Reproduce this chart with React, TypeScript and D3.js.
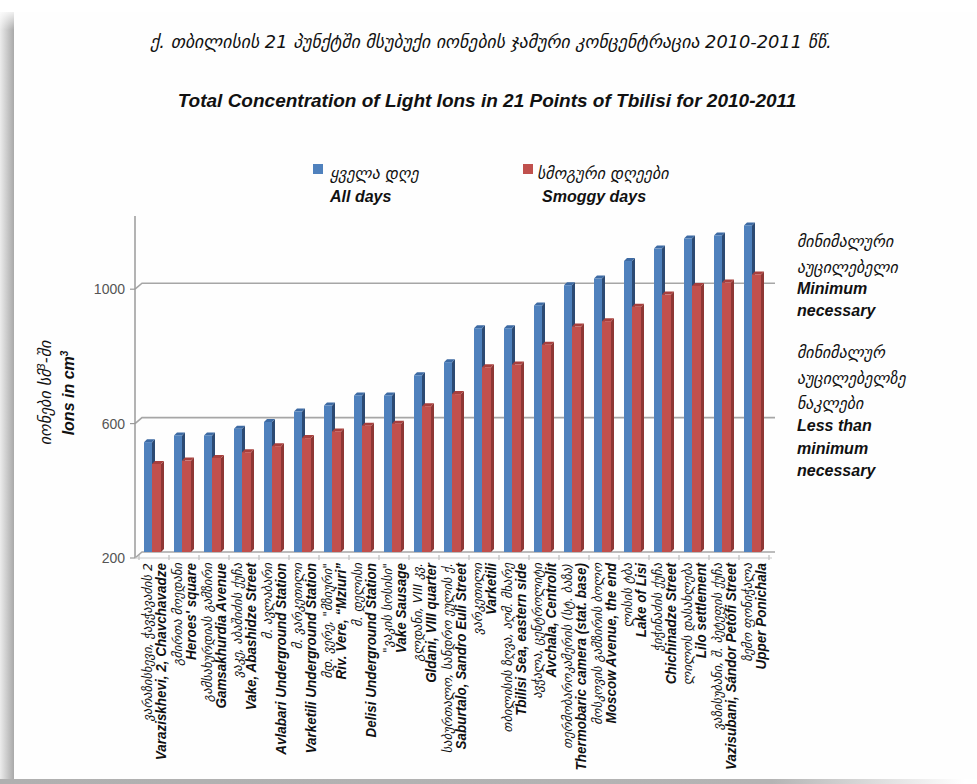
import React from "react";
import * as d3 from "d3";

const categoriesKa = [
  "ვარაზისხევი, ჭავჭავაძის 2",
  "გმირთა მოედანი",
  "გამსახურდიას გამზირი",
  "ვაკე, აბაშიძის ქუჩა",
  "მ. ავლაბარი",
  "მ. ვარკეთილი",
  "მდ. ვერე, \"მზიური\"",
  "მ. დელისი",
  "\"ვაკის სოსისი\"",
  "გლდანი, VIII კვ.",
  "საბურთალო, სანდრო ეულის ქ.",
  "ვარკეთილი",
  "თბილისის ზღვა, აღმ. მხარე",
  "ავჭალა, ცენტროლიტი",
  "თერმობაროკამერის (სტ. ბაზა)",
  "მოსკოვის გამზირის ბოლო",
  "ლისის ტბა",
  "ჭიჭინაძის ქუჩა",
  "ლილოს დასახლება",
  "ვაზისუბანი, შ. პეტეფის ქუჩა",
  "ზემო ფონიჭალა",
];

const categoriesEn = [
  "Varaziskhevi, 2, Chavchavadze",
  "Heroes' square",
  "Gamsakhurdia Avenue",
  "Vake, Abashidze Street",
  "Avlabari Underground Station",
  "Varketili Underground Station",
  "Riv. Vere, \u201CMziuri\u201D",
  "Delisi Underground Station",
  "Vake Sausage",
  "Gldani, VIII quarter",
  "Saburtalo, Sandro Euli Street",
  "Varketili",
  "Tbilisi Sea, eastern side",
  "Avchala, Centrolit",
  "Thermobaric camera (stat. base)",
  "Moscow Avenue, the end",
  "Lake of Lisi",
  "Chichinadze Street",
  "Lilo settlement",
  "Vazisubani, Sándor Petőfi Street",
  "Upper Ponichala",
];

const allDays = [527, 547, 547, 567, 587, 618, 636, 666, 666, 726, 765, 866, 866, 934, 994, 1014, 1066, 1103, 1133, 1142, 1172];
const smoggyDays = [462, 472, 480, 497, 515, 539, 559, 576, 582, 634, 670, 750, 758, 817, 871, 887, 930, 966, 992, 1002, 1026];

const yTicks = [200, 600, 1000];
const gridValues = [200, 600, 1000];

const titleKa = "ქ. თბილისის 21 პუნქტში მსუბუქი იონების ჯამური კონცენტრაცია 2010-2011 წწ.";
const titleEn = "Total Concentration of Light Ions in 21 Points of Tbilisi for 2010-2011";
const legendKa = ["ყველა დღე", "სმოგური დღეები"];
const legendEn = ["All days", "Smoggy days"];
const noteTop = ["მინიმალური", "აუცილებელი"];
const noteTopEn = ["Minimum", "necessary"];
const noteBottom = ["მინიმალურ", "აუცილებელზე", "ნაკლები"];
const noteBottomEn = ["Less than", "minimum", "necessary"];

const W = 977;
const H = 784;
const KA_FONT = "'DejaVu Sans', 'Noto Sans', sans-serif";
const EN_WIDE = "'Liberation Sans', Arial, sans-serif";

const BLUE = "#4f81bd";
const BLUE_SIDE = "#2c4a73";
const RED = "#c0504d";
const RED_SIDE = "#8e3734";

export default function App() {
  const idx = d3.range(categoriesKa.length).map(String);
  const x = d3.scaleBand<string>().domain(idx).range([139, 769]).padding(0);
  const y = d3.scaleLinear().domain([200, 1200]).range([552, 216]);
  const bw = x.bandwidth();
  const depth = 3;

  return (
    <div style={{ position: "absolute", left: 0, top: 0 }}>
      <svg width={W} height={H} style={{ display: "block", background: "#fff" }}>
        <defs>
          <linearGradient id="lshadow" x1="0" x2="1" y1="0" y2="0">
            <stop offset="0" stopColor="#ececec" />
            <stop offset="1" stopColor="#a9a9a9" />
          </linearGradient>
          <linearGradient id="topfade" x1="0" x2="0" y1="0" y2="1">
            <stop offset="0" stopColor="#fff" stopOpacity="1" />
            <stop offset="1" stopColor="#fff" stopOpacity="0" />
          </linearGradient>
          <linearGradient id="bshadow" x1="0" x2="1" y1="0" y2="0">
            <stop offset="0" stopColor="#b0b0b0" />
            <stop offset="0.8" stopColor="#b4b4b4" />
            <stop offset="1" stopColor="#ffffff" />
          </linearGradient>
        </defs>
        <rect x={0} y={0} width={W} height={H} fill="#fff" />
        <rect x={0} y={12} width={14} height={770} fill="url(#lshadow)" />
        <rect x={0} y={8} width={16} height={22} fill="url(#topfade)" />
        <rect x={0} y={779} width={965} height={5} fill="url(#bshadow)" />
        <rect x={14} y={12} width={W - 14} height={767} fill="#fefefe" />

        {/* Titles */}
        <text x={491} y={48} textAnchor="middle" fontFamily={KA_FONT} fontStyle="italic" fontSize={17.8} fill="#111">
          {titleKa}
        </text>
        <text x={487} y={107} textAnchor="middle" fontFamily={EN_WIDE} fontStyle="italic" fontWeight="bold" fontSize={19} fill="#111">
          {titleEn}
        </text>

        {/* Legend */}
        <rect x={313} y={164} width={10} height={10} fill={BLUE} />
        <text x={330} y={179} fontFamily={KA_FONT} fontStyle="italic" fontSize={16} fill="#111">{legendKa[0]}</text>
        <text x={330} y={202} fontFamily={EN_WIDE} fontStyle="italic" fontWeight="bold" fontSize={16} fill="#111">{legendEn[0]}</text>
        <rect x={523} y={164} width={10} height={10} fill={RED} />
        <text x={537} y={179} fontFamily={KA_FONT} fontStyle="italic" fontSize={16} fill="#111">{legendKa[1]}</text>
        <text x={542} y={202} fontFamily={EN_WIDE} fontStyle="italic" fontWeight="bold" fontSize={16} fill="#111">{legendEn[1]}</text>

        {/* Gridlines */}
        {gridValues.map((v) => (
          <path
            key={"g" + v}
            d={`M135,${y(v) + 6} L142,${y(v)} L775,${y(v)}`}
            fill="none"
            stroke="#a6a6a6"
            strokeWidth={1.6}
          />
        ))}

        {/* Y axis */}
        <line x1={135} x2={135} y1={216} y2={558} stroke="#9a9a9a" strokeWidth={1.5} />
        {yTicks.map((v) => (
          <g key={"t" + v}>
            <line x1={130} x2={135} y1={y(v) + 6} y2={y(v) + 6} stroke="#9a9a9a" strokeWidth={1.2} />
            <text x={125} y={y(v) + 11} textAnchor="end" fontFamily={EN_WIDE} fontSize={14} fill="#555">
              {v}
            </text>
          </g>
        ))}
        {/* X ticks */}
        {idx.concat(["end"]).map((k, i) => {
          const xx = k === "end" ? 769 : (x(k) as number);
          return <line key={"xt" + i} x1={xx} x2={xx} y1={555} y2={560} stroke="#b0b0b0" strokeWidth={1} />;
        })}
        <line x1={135} x2={772} y1={558} y2={558} stroke="#c8c8c8" strokeWidth={1} />

        {/* Bars */}
        {idx.map((k, i) => {
          const c = (x(k) as number) + bw / 2;
          const base = y(200);
          const bx = c - 10;
          const bwF = 8;
          const rx = c - 2;
          const rwF = 9;
          const by = y(allDays[i]);
          const ry = y(smoggyDays[i]);
          return (
            <g key={"b" + i}>
              <polygon
                points={`${bx + bwF},${by} ${bx + bwF + depth},${by - depth} ${bx + bwF + depth},${base - depth} ${bx + bwF},${base}`}
                fill={BLUE_SIDE}
              />
              <polygon
                points={`${bx},${by} ${bx + depth},${by - depth} ${bx + bwF + depth},${by - depth} ${bx + bwF},${by}`}
                fill="#3d6aa3"
              />
              <rect x={bx} y={by} width={bwF} height={base - by} fill={BLUE} />
              <polygon
                points={`${rx + rwF},${ry} ${rx + rwF + depth},${ry - depth} ${rx + rwF + depth},${base - depth} ${rx + rwF},${base}`}
                fill={RED_SIDE}
              />
              <polygon
                points={`${rx},${ry} ${rx + depth},${ry - depth} ${rx + rwF + depth},${ry - depth} ${rx + rwF},${ry}`}
                fill="#a8403d"
              />
              <rect x={rx} y={ry} width={rwF} height={base - ry} fill={RED} />
            </g>
          );
        })}

        {/* X labels */}
        {idx.map((k, i) => {
          const c = (x(k) as number) + bw / 2;
          return (
            <g key={"l" + i}>
              <text
                transform={`translate(${c - 2},563) rotate(-90)`}
                textAnchor="end"
                fontFamily={KA_FONT}
                fontStyle="italic"
                fontSize={12.5}
                fill="#111"
              >
                {categoriesKa[i]}
              </text>
              <text
                transform={`translate(${c + 12},563) rotate(-90) scale(0.9,1)`}
                textAnchor="end"
                fontFamily={EN_WIDE}
                fontStyle="italic"
                fontWeight="bold"
                fontSize={15}
                fill="#111"
              >
                {categoriesEn[i]}
              </text>
            </g>
          );
        })}

        {/* Y title */}
        <text transform="translate(51,393) rotate(-90)" textAnchor="middle" fontFamily={KA_FONT} fontStyle="italic" fontSize={16} fill="#111">
          იონები სმ<tspan fontSize={10} dy={-6}>3</tspan><tspan dy={6}>-ში</tspan>
        </text>
        <text transform="translate(74,393) rotate(-90)" textAnchor="middle" fontFamily={EN_WIDE} fontStyle="italic" fontWeight="bold" fontSize={16} fill="#111">
          Ions in cm<tspan fontSize={10} dy={-6}>3</tspan>
        </text>

        {/* Right notes */}
        {noteTop.map((t, i) => (
          <text key={"nt" + i} x={797} y={247 + i * 26} fontFamily={KA_FONT} fontStyle="italic" fontSize={16} fill="#111">{t}</text>
        ))}
        {noteTopEn.map((t, i) => (
          <text key={"nte" + i} x={797} y={294 + i * 21.5} fontFamily={EN_WIDE} fontStyle="italic" fontWeight="bold" fontSize={16} fill="#111">{t}</text>
        ))}
        {noteBottom.map((t, i) => (
          <text key={"nb" + i} x={797} y={358 + i * 25.5} fontFamily={KA_FONT} fontStyle="italic" fontSize={16} fill="#111">{t}</text>
        ))}
        {noteBottomEn.map((t, i) => (
          <text key={"nbe" + i} x={797} y={431 + i * 22.5} fontFamily={EN_WIDE} fontStyle="italic" fontWeight="bold" fontSize={16} fill="#111">{t}</text>
        ))}
      </svg>
    </div>
  );
}
